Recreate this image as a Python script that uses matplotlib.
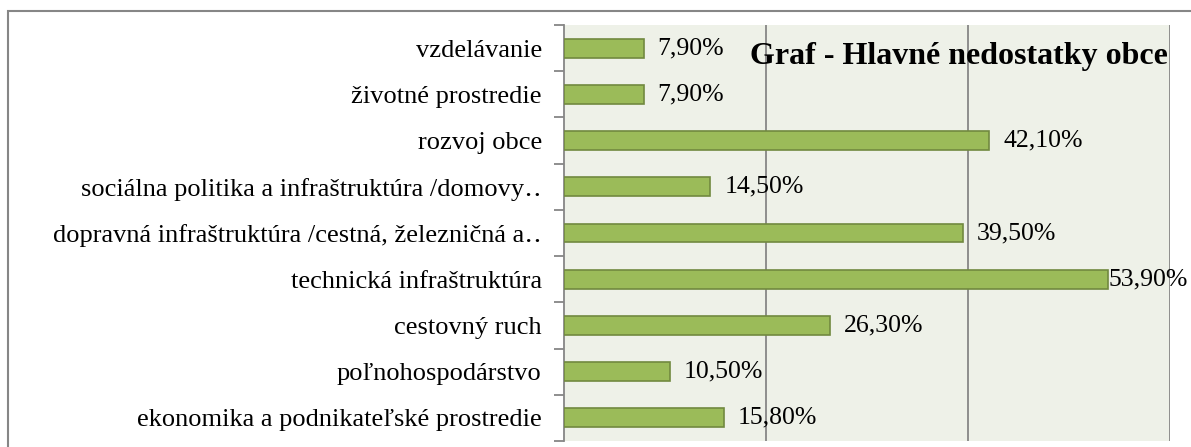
#!/usr/bin/env python3
"""
Horizontal bar chart: Graf - Hlavné nedostatky obce
"""

import matplotlib
matplotlib.use("Agg")
import matplotlib.pyplot as plt
from matplotlib.patches import Rectangle

categories = [
    "ekonomika a podnikateľské prostredie",
    "poľnohospodárstvo",
    "cestovný ruch",
    "technická infraštruktúra",
    "dopravná infraštruktúra /cestná, železničná a‥",
    "sociálna politika a infraštruktúra /domovy‥",
    "rozvoj obce",
    "životné prostredie",
    "vzdelávanie",
]
values = [15.8, 10.5, 26.3, 53.9, 39.5, 14.5, 42.1, 7.9, 7.9]
value_labels = ["15,80%", "10,50%", "26,30%", "53,90%", "39,50%",
                "14,50%", "42,10%", "7,90%", "7,90%"]
title = "Graf - Hlavné nedostatky obce"

SERIF = ["Liberation Serif", "DejaVu Serif"]
GRID = "#868686"


def main():
    plt.rcParams["font.family"] = SERIF

    fig = plt.figure(figsize=(11.91, 4.47), dpi=100)
    W, H = 1191, 447

    # outer chart frame (only left and top edges are visible in the crop)
    fig.patches.append(Rectangle((8 / W, -0.1), 1.2, 1 - 10.5 / H + 0.1,
                                 transform=fig.transFigure, fill=False,
                                 edgecolor=GRID, linewidth=1.5))

    ax = fig.add_axes([564 / W, 1 - 441 / H, (1170 - 564) / W, (441 - 25) / H])
    ax.set_facecolor("#eef1e8")

    y = list(range(len(categories)))
    ax.barh(y, values, height=0.41, color="#9bbb59", edgecolor="#71893f",
            linewidth=1.2, zorder=3)

    for yi, v, lab in zip(y, values, value_labels):
        off = 10 if v < 50 else 0
        ax.annotate(lab, (v, yi), xytext=(off, 0), textcoords="offset points",
                    va="center", ha="left", fontsize=18.5, zorder=4)

    ax.set_xlim(0, 60)
    ax.set_ylim(-0.5, len(categories) - 0.5)
    ax.set_xticks([20, 40, 60])
    ax.tick_params(axis="x", length=0, labelbottom=False)
    ax.grid(axis="x", color=GRID, linewidth=1.3, zorder=1)

    ax.set_yticks(y)
    ax.set_yticklabels(categories, fontsize=19)
    ax.set_yticks([i - 0.5 for i in range(len(categories) + 1)], minor=True)
    ax.tick_params(axis="y", which="major", length=0, pad=16)
    ax.tick_params(axis="y", which="minor", length=7, color=GRID, width=1.3)

    for s in ["top", "right", "bottom"]:
        ax.spines[s].set_visible(False)
    ax.spines["left"].set_color(GRID)
    ax.spines["left"].set_linewidth(1.3)

    ax.text(0.997, 0.925, title, transform=ax.transAxes, ha="right",
            va="center", fontsize=23, fontweight="bold", zorder=5)

    fig.savefig("out.png", dpi=100)


if __name__ == "__main__":
    main()
